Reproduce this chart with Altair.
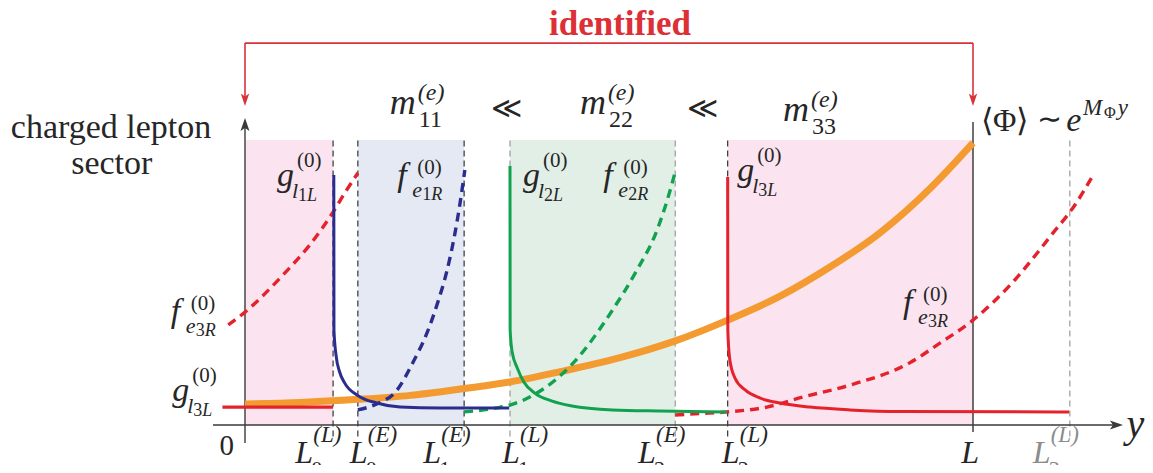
import altair as alt
import pandas as pd

# ------------------------------------------------------------------
# Frame: u = position along the extra dimension y (L = 1),
#        v = profile height (top of the shaded bands = 1)
# ------------------------------------------------------------------
W, H = 1137, 457
U_MIN, U_MAX = -0.325549, 1.236264
V_MIN, V_MAX = -0.140351, 1.463158
PXU = (U_MAX - U_MIN) / W
PXV = (V_MAX - V_MIN) / H

FONT = "Liberation Serif"
INK = "#262626"
RED = "#e5222b"
BLUE = "#2b2d8e"
GREEN = "#11a24f"
ORANGE = "#f39a30"
BRACKET = "#d8323a"
PINK = "#fbe4f0"
LBLUE = "#e5e9f3"
LGREEN = "#e2efe6"
GUIDE_BLACK = "#333333"
GUIDE_GRAY = "#9a9a9a"

# ---- tick positions on the y axis --------------------------------
tick_keys = ["L0L", "L0E", "L1E", "L1L", "L2E", "L2L", "L", "L3L"]
tick_u = [0.121, 0.155, 0.301, 0.364, 0.591, 0.663, 1.0, 1.133]
T = dict(zip(tick_keys, tick_u))

tick_label_sup = ["(L)", "(E)", "(E)", "(L)", "(E)", "(L)", "", "(L)"]
tick_label_sub = ["0", "0", "1", "1", "2", "2", "", "3"]
tick_label_u = [0.069, 0.144, 0.245, 0.353, 0.540, 0.655, 0.984, 1.082]

# ---- shaded bands -------------------------------------------------
band_u0 = [0.0, T["L0E"], T["L1L"], T["L2L"]]
band_u1 = [T["L0L"], T["L1E"], T["L2E"], T["L"]]
band_color = [PINK, LBLUE, LGREEN, PINK]

guides_black = ["L0L", "L0E", "L1E", "L2L"]
guides_gray = ["L1L", "L2E", "L3L"]

# ---- profiles -----------------------------------------------------
vev_u = [0, .076, .155, .227, .301, .364, .433, .515, .591, .663, .735, .804, .872, .941, 1.0]
vev_v = [.074, .079, .090, .104, .128, .151, .187, .236, .295, .368, .452, .555, .674, .830, .990]

g3_left_u = [-0.031, 0.121]
g3_left_v = [0.063, 0.063]

g3_u = [.663, .6632, .666, .673, .687, .707, .735, .776, .831, .900, 1.132]
g3_v = [.870, .333, .228, .165, .123, .095, .077, .063, .053, .047, .046]

g1_u = [.122, .1222, .125, .130, .137, .154, .181, .213, .268, .363]
g1_v = [.877, .333, .246, .186, .147, .105, .077, .063, .060, .060]

g2_u = [.364, .3642, .367, .374, .383, .398, .422, .449, .505, .570, .662]
g2_v = [.909, .333, .256, .200, .151, .112, .084, .067, .053, .049, .046]

f1_u = [.155, .181, .209, .231, .250, .265, .277, .288, .295, .302]
f1_v = [.053, .074, .123, .221, .323, .432, .537, .667, .772, .895]

f2_u = [.301, .346, .364, .401, .451, .505, .536, .566, .580, .591]
f2_v = [.046, .060, .070, .112, .218, .404, .533, .684, .789, .888]

f3_left_u = [-.023, 0, .052, .089, .121, .137, .155]
f3_left_v = [.351, .396, .526, .632, .747, .814, .884]

f3_u = [.591, .625, .663, .717, .766, .831, .913, .955, 1.0, 1.051, 1.110, 1.140, 1.165]
f3_v = [.035, .040, .046, .063, .098, .140, .218, .288, .368, .491, .674, .772, .877]

# ------------------------------------------------------------------
XS = alt.Scale(domain=[U_MIN, U_MAX], nice=False, zero=False)
YS = alt.Scale(domain=[V_MIN, V_MAX], nice=False, zero=False)


def X(f="u"):
    return alt.X(f"{f}:Q", scale=XS, axis=None)


def Y(f="v"):
    return alt.Y(f"{f}:Q", scale=YS, axis=None)


layers = []

# bands
bands = pd.DataFrame({"u": band_u0, "u2": band_u1, "v": [0.0] * 4, "v2": [1.0] * 4, "c": band_color})
layers.append(alt.Chart(bands).mark_rect().encode(
    x=X(), x2="u2:Q", y=Y(), y2="v2:Q", color=alt.Color("c:N", scale=None)))

# guides
gb = pd.DataFrame({"u": [T[k] for k in guides_black], "v": -0.04, "v2": 1.0})
layers.append(alt.Chart(gb).mark_rule(color=GUIDE_BLACK, strokeWidth=1.2, strokeDash=[6, 4]).encode(
    x=X(), y=Y(), y2="v2:Q"))
gg = pd.DataFrame({"u": [T[k] for k in guides_gray], "v": -0.04, "v2": 1.0})
layers.append(alt.Chart(gg).mark_rule(color=GUIDE_GRAY, strokeWidth=1.2, strokeDash=[6, 4]).encode(
    x=X(), y=Y(), y2="v2:Q"))
ls = pd.DataFrame({"u": [T["L"]], "v": [-0.025], "v2": [1.063]})
layers.append(alt.Chart(ls).mark_rule(color="#333333", strokeWidth=1.4).encode(x=X(), y=Y(), y2="v2:Q"))

# axes
axes = pd.DataFrame({"u": [0.0, -0.044], "u2": [0.0, 1.195], "v": [-0.063, 0.0], "v2": [1.06, 0.0]})
layers.append(alt.Chart(axes).mark_rule(color="#3a3a3a", strokeWidth=1.4).encode(
    x=X(), x2="u2:Q", y=Y(), y2="v2:Q"))

# bracket "identified"
br = pd.DataFrame({"u": [0.0, 0.0, 1.0], "u2": [1.0, 0.0, 1.0],
                   "v": [1.340, 1.340, 1.340], "v2": [1.340, 1.135, 1.135]})
layers.append(alt.Chart(br).mark_rule(color=BRACKET, strokeWidth=1.6).encode(
    x=X(), x2="u2:Q", y=Y(), y2="v2:Q"))


def curve(us, vs, color, width, dash=None):
    df = pd.DataFrame({"u": us, "v": vs})
    kw = dict(color=color, strokeWidth=width, interpolate="monotone", strokeCap="butt")
    if dash:
        kw["strokeDash"] = dash
    return alt.Chart(df).mark_line(**kw).encode(x=X(), y=Y())


layers.append(curve(vev_u, vev_v, ORANGE, 7))
layers.append(curve(f3_left_u, f3_left_v, RED, 3.4, [9, 6]))
layers.append(curve(f3_u, f3_v, RED, 3.4, [9, 6]))
layers.append(curve(f1_u, f1_v, BLUE, 3.4, [9, 6]))
layers.append(curve(f2_u, f2_v, GREEN, 3.4, [9, 6]))
layers.append(curve(g3_left_u, g3_left_v, RED, 3.2))
layers.append(curve(g3_u, g3_v, RED, 3.0))
layers.append(curve(g1_u, g1_v, BLUE, 3.0))
layers.append(curve(g2_u, g2_v, GREEN, 3.0))

# arrow heads
UP = "M0,0 L0.45,1.3 L0,1.0 L-0.45,1.3 Z"
RIGHT = "M0,0 L-1.3,0.45 L-1.0,0 L-1.3,-0.45 Z"
DOWN = "M0,0 L0.42,-1.25 L0,-0.95 L-0.42,-1.25 Z"


def arrow(us, vs, shape, color):
    df = pd.DataFrame({"u": us, "v": vs})
    return alt.Chart(df).mark_point(shape=shape, filled=True, size=400, color=color,
                                    opacity=1, strokeWidth=0).encode(x=X(), y=Y())


layers.append(arrow([0.0], [1.077], UP, "#3a3a3a"))
layers.append(arrow([1.206], [0.0], RIGHT, "#3a3a3a"))
layers.append(arrow([0.0, 1.0], [1.119, 1.119], DOWN, BRACKET))

# ------------------------------------------------------------------
# Text
# ------------------------------------------------------------------
rows = []


def put(u, v, text, size, style="normal", dx=0, dy=0, color=INK, align="left",
        weight="normal", font=FONT):
    rows.append(dict(u=u + dx * PXU, v=v - dy * PXV, text=text, size=size, style=style,
                     color=color, align=align, weight=weight, font=font))


def gf_label(u, v, base, s1, s2, s3, color=INK):
    off = {"g": dict(sup=(20, -19), s1=(15, 12), s2=(21, 15), s3=(30, 15)),
           "f": dict(sup=(20, -12), s1=(15, 11), s2=(25, 14), s3=(34, 14))}[base]
    put(u, v, base, 34, "italic", color=color)
    put(u, v, "(0)", 21, "normal", *off["sup"], color=color)
    put(u, v, s1, 22, "italic", *off["s1"], color=color)
    put(u, v, s2, 18, "normal", *off["s2"], color=color)
    put(u, v, s3, 18, "italic", *off["s3"], color=color)


def m_label(u, v, idx):
    put(u, v, "m", 36, "italic")
    put(u, v, "(e)", 24, "italic", 28, -14)
    put(u, v, idx, 24, "normal", 29, 13)


# profile labels
gf_label(0.044, 0.839, "g", "l", "1", "L")
gf_label(0.209, 0.839, "f", "e", "1", "R")
gf_label(0.382, 0.839, "g", "l", "2", "L")
gf_label(0.492, 0.839, "f", "e", "2", "R")
gf_label(0.676, 0.856, "g", "l", "3", "L")
gf_label(-0.102, 0.361, "f", "e", "3", "R")
gf_label(-0.100, 0.084, "g", "l", "3", "L")
gf_label(0.904, 0.393, "f", "e", "3", "R")

# mass hierarchy
m_label(0.199, 1.091, "11")
m_label(0.460, 1.091, "22")
m_label(0.739, 1.067, "33")
put(0.359, 1.077, "≪", 30, align="center")
put(0.629, 1.077, "≪", 30, align="center")

# vev
put(1.011, 1.032, "⟨Φ⟩", 32)
put(1.105, 1.037, "∼", 30, align="center")
put(1.128, 1.032, "e", 34, "italic")
put(1.151, 1.088, "M", 23, "italic")
put(1.180, 1.077, "Φ", 16)
put(1.199, 1.088, "y", 23, "italic")

# sector + identified
put(-0.184, 1.007, "charged lepton", 34, align="center")
put(-0.183, 0.881, "sector", 34, align="center")
put(0.515, 1.368, "identified", 35, color="#dc2f36", align="center", weight="bold")

# axis labels
put(-0.025, -0.105, "0", 29, align="center")
put(1.211, -0.042, "y", 40, "italic")
for k, lu, sup, sub in zip(tick_keys, tick_label_u, tick_label_sup, tick_label_sub):
    col = "#8c8c8c" if k == "L3L" else INK
    put(lu, -0.133, "L", 32, "italic", color=col)
    if sup:
        put(lu, -0.133, sup, 23, "italic", 18, -21, color=col)
    if sub:
        put(lu, -0.133, sub, 22, "normal", 16, 13, color=col)

tdf = pd.DataFrame(rows)
for (font, style, weight, align), g in tdf.groupby(["font", "style", "weight", "align"]):
    layers.append(alt.Chart(g).mark_text(align=align, baseline="alphabetic", font=font,
                                         fontStyle=style, fontWeight=weight).encode(
        x=X(), y=Y(), text=alt.Text("text:N"),
        size=alt.Size("size:Q", scale=None), color=alt.Color("color:N", scale=None)))

chart = alt.layer(*layers).properties(
    width=W, height=H, padding=0, autosize=alt.AutoSizeParams(type="none"),
    background="white",
).configure_view(stroke=None)

chart.save("out.html", embed_options={"renderer": "svg", "actions": False})
